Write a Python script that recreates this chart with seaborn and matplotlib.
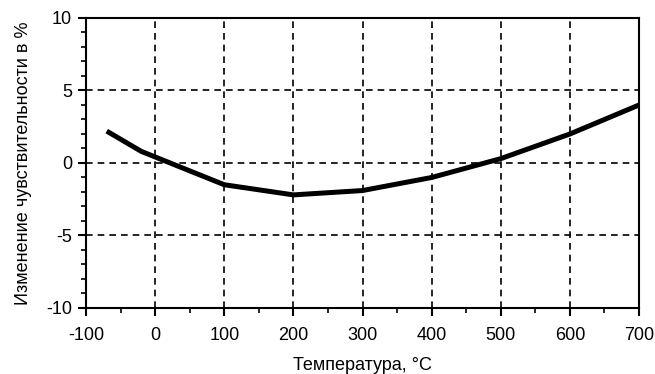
import matplotlib
matplotlib.use("Agg")
import matplotlib.pyplot as plt
import seaborn as sns
import pandas as pd
from matplotlib.ticker import MultipleLocator

temperature = [-70, -20, 100, 200, 300, 400, 500, 600, 700]
sensitivity_change = [2.2, 0.8, -1.5, -2.2, -1.9, -1.0, 0.3, 2.0, 4.0]
x_ticks = [-100, 0, 100, 200, 300, 400, 500, 600, 700]
y_ticks = [-10, -5, 0, 5, 10]

sns.set_theme(style="white")
plt.rcParams['font.family'] = ['Liberation Sans', 'DejaVu Sans']

df = pd.DataFrame({"t": temperature, "s": sensitivity_change})

fig = plt.figure(figsize=(6.55, 3.74), dpi=100)
ax = fig.add_axes([0.1313, 0.1765, 0.9756 - 0.1313, 0.9519 - 0.1765])

sns.lineplot(data=df, x="t", y="s", ax=ax, color="black", linewidth=3.6,
             solid_capstyle="butt", zorder=3)

ax.set_xlim(-100, 700)
ax.set_ylim(-10, 10)
ax.set_xticks(x_ticks)
ax.set_yticks(y_ticks)
ax.set_xticklabels([str(v) for v in x_ticks])
ax.set_yticklabels([str(v) for v in y_ticks])
ax.xaxis.set_minor_locator(MultipleLocator(50))
ax.yaxis.set_minor_locator(MultipleLocator(1))

for v in x_ticks[1:-1]:
    ax.axvline(v, color="black", lw=1.2, ls=(0, (4, 3)), zorder=1)
for v in y_ticks[1:-1]:
    ax.axhline(v, color="black", lw=1.2, ls=(0, (4, 3)), zorder=1)

for sp in ax.spines.values():
    sp.set_visible(True)
    sp.set_color("black")
    sp.set_linewidth(1.5)

ax.tick_params(axis="x", which="major", pad=8)
ax.tick_params(axis="y", which="major", pad=4)
ax.tick_params(which="major", direction="out", length=6, width=1.5, color="black",
               labelsize=13, labelcolor="black", bottom=True, left=True, top=False, right=False)
ax.tick_params(which="minor", direction="out", length=3.5, width=1.2, color="black",
               bottom=True, left=True, top=False, right=False)

ax.set_xlabel("Температура, °C", fontsize=13, color="black", labelpad=9)
ax.set_ylabel("Изменение чувствительности в %", fontsize=13, color="black", labelpad=10)

fig.savefig("out.png", dpi=100)
